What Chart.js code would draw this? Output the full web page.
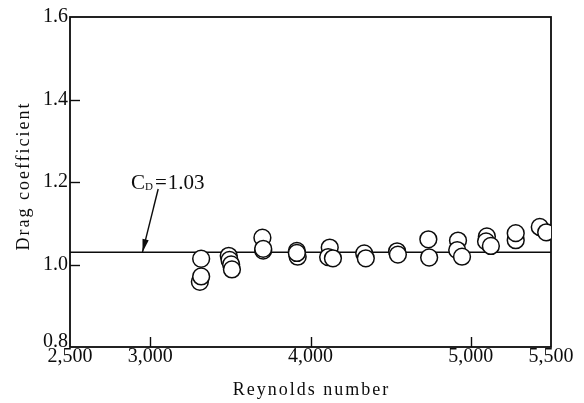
<!DOCTYPE html>
<html>
<head>
<meta charset="utf-8">
<script src="https://cdn.jsdelivr.net/npm/chart.js@4"></script>
<style>
  html, body { margin: 0; padding: 0; background: #fff; }
  #wrap { width: 584px; height: 403px; }
</style>
</head>
<body>
<div id="wrap"><canvas id="cdChart" width="584" height="403"></canvas></div>
<script>
// measured drag coefficient vs Reynolds number
const reynolds = [
    3310, 3318, 3318,
    3490, 3495, 3505, 3510,
    3700, 3705, 3705,
    3915, 3920, 3915,
    4120, 4110, 4140,
    4335, 4345,
    4540, 4545,
    4735, 4740,
    4920, 4915, 4945,
    5100, 5095, 5125,
    5280, 5280,
    5430, 5470
]
const dragCoeff = [
    0.958, 0.971, 1.014,
    1.021, 1.011, 1.000, 0.988,
    1.065, 1.034, 1.038,
    1.033, 1.019, 1.028,
    1.041, 1.018, 1.015,
    1.027, 1.015,
    1.032, 1.024,
    1.061, 1.017,
    1.058, 1.035, 1.019,
    1.068, 1.056, 1.045,
    1.059, 1.076,
    1.091, 1.078
]
const meanCd = 1.03
const xTickValues = [2500, 3000, 4000, 5000, 5500]
const yTickValues = [0.8, 1.0, 1.2, 1.4, 1.6]
const xInnerTicks = [3000, 4000, 5000]
const yInnerTicks = [1.0, 1.2, 1.4]

const serif = '"Liberation Serif", "Times New Roman", serif'
const ink = '#0c0c0c'

const points = reynolds.map((re, i) => ({x: re, y: dragCoeff[i]}))

// box around the plot plus short ticks pointing inwards
const framePlugin = {
    id: 'frame',
    beforeDatasetsDraw(chart) {
        const {ctx, chartArea: a, scales} = chart
        ctx.save()
        ctx.strokeStyle = ink
        ctx.lineWidth = 1.4
        xInnerTicks.forEach(v => {
            const px = Math.round(scales.x.getPixelForValue(v)) + 0.5
            ctx.beginPath()
            ctx.moveTo(px, a.bottom)
            ctx.lineTo(px, a.bottom - 10)
            ctx.stroke()
        })
        yInnerTicks.forEach(v => {
            const py = Math.round(scales.y.getPixelForValue(v)) + 0.5
            ctx.beginPath()
            ctx.moveTo(a.left, py)
            ctx.lineTo(a.left + 10, py)
            ctx.stroke()
        })
        ctx.lineWidth = 1.8
        ctx.strokeRect(a.left, a.top, a.right - a.left, a.bottom - a.top)
        ctx.restore()
    }
}

// axis titles (letter spaced) and the C_D label with its arrow
const notesPlugin = {
    id: 'notes',
    afterDraw(chart) {
        const {ctx, chartArea: a, scales} = chart
        const x = scales.x, y = scales.y
        ctx.save()
        ctx.fillStyle = ink
        ctx.strokeStyle = ink

        ctx.font = '18px ' + serif
        ctx.letterSpacing = '2px'
        ctx.textAlign = 'center'
        ctx.textBaseline = 'middle'
        ctx.fillText('Reynolds number', (a.left + a.right) / 2 + 1, 390)
        ctx.save()
        ctx.translate(24, 176)
        ctx.rotate(-Math.PI / 2)
        ctx.fillText('Drag coefficient', 0, 0)
        ctx.restore()
        ctx.letterSpacing = '0px'

        // C_D = 1.03
        ctx.textAlign = 'left'
        ctx.textBaseline = 'alphabetic'
        let lx = x.getPixelForValue(2880)
        const base = y.getPixelForValue(1.2) + 7
        ctx.font = '21px ' + serif
        ctx.fillText('C', lx, base)
        lx += ctx.measureText('C').width
        ctx.font = '11px ' + serif
        ctx.fillText('D', lx, base + 1)
        lx += ctx.measureText('D').width + 2
        ctx.font = '21px ' + serif
        ctx.fillText('=', lx, base)
        lx += ctx.measureText('=').width + 1
        ctx.fillText(meanCd.toFixed(2), lx, base)

        // arrow down to the mean line
        const x0 = x.getPixelForValue(3050), y0 = y.getPixelForValue(1.183)
        const x1 = x.getPixelForValue(2952), y1 = y.getPixelForValue(meanCd)
        ctx.lineWidth = 1.4
        ctx.beginPath()
        ctx.moveTo(x0, y0)
        ctx.lineTo(x1, y1)
        ctx.stroke()
        const ang = Math.atan2(y1 - y0, x1 - x0)
        const len = 13, half = 3.2
        ctx.beginPath()
        ctx.moveTo(x1, y1)
        ctx.lineTo(x1 - len * Math.cos(ang) - half * Math.sin(ang), y1 - len * Math.sin(ang) + half * Math.cos(ang))
        ctx.lineTo(x1 - len * Math.cos(ang) + half * Math.sin(ang), y1 - len * Math.sin(ang) - half * Math.cos(ang))
        ctx.closePath()
        ctx.fill()
        ctx.restore()
    }
}

const ctx = document.getElementById('cdChart').getContext('2d')
const cdChart = new Chart(ctx, {
    type: 'scatter',
    data: {
        datasets: [{
            label: 'C_D',
            data: points,
            pointRadius: 8.4,
            pointHoverRadius: 8.4,
            borderWidth: 1.5,
            borderColor: ink,
            backgroundColor: '#fff',
            order: 0
        }, {
            type: 'line',
            label: 'mean',
            data: [{x: 2500, y: meanCd}, {x: 5500, y: meanCd}],
            borderColor: ink,
            borderWidth: 1.5,
            pointRadius: 0,
            fill: false,
            order: 1
        }]
    },
    options: {
        responsive: false,
        animation: false,
        events: [],
        layout: {
            padding: {top: 17, right: 33, bottom: 0, left: 0}
        },
        plugins: {
            legend: {display: false},
            tooltip: {enabled: false}
        },
        scales: {
            x: {
                type: 'linear',
                min: 2500,
                max: 5500,
                afterBuildTicks: s => { s.ticks = xTickValues.map(v => ({value: v})) },
                afterFit: s => { s.height = 56 },
                grid: {display: false, drawTicks: false},
                border: {display: false},
                ticks: {
                    autoSkip: false,
                    maxRotation: 0,
                    padding: 0,
                    color: ink,
                    font: {family: serif, size: 20, lineHeight: 1},
                    callback: v => v.toLocaleString('en-US')
                }
            },
            y: {
                min: 0.8,
                max: 1.6,
                afterBuildTicks: s => { s.ticks = yTickValues.map(v => ({value: v})) },
                afterFit: s => { s.width = 70 },
                grid: {display: false, drawTicks: false},
                border: {display: false},
                ticks: {
                    padding: 2,
                    color: ink,
                    // the bottom label sits a little higher so it clears 2,500
                    font: c => ({
                        family: serif,
                        size: 20,
                        lineHeight: c.tick && c.tick.value === 0.8 ? 0.5 : 1.2
                    }),
                    callback: v => v === 0.8 ? [v.toFixed(1), ''] : v.toFixed(1)
                }
            }
        }
    },
    plugins: [framePlugin, notesPlugin]
})
</script>
</body>
</html>
